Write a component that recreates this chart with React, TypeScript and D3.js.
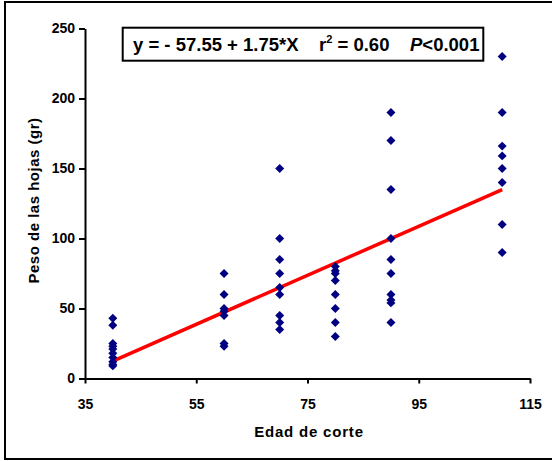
import React, { useRef, useEffect } from "react";
import * as d3 from "d3";

// valores
const edades = [40, 60, 70, 80, 90, 110];
const peso40 = [43, 38, 25, 23, 21, 18, 15, 12, 10, 9];
const peso60 = [75, 60, 50, 48, 45, 25, 23];
const peso70 = [150, 100, 85, 75, 65, 60, 45, 40, 35];
const peso80 = [80, 77, 75, 70, 60, 50, 40, 30];
const peso90 = [190, 170, 135, 100, 85, 75, 60, 56, 54, 40];
const peso110 = [230, 190, 166, 159, 150, 140, 110, 90];
const pesos = [peso40, peso60, peso70, peso80, peso90, peso110];

const xTicks = [35, 55, 75, 95, 115];
const yTicks = [0, 50, 100, 150, 200, 250];

const intercepto = -57.55;
const pendiente = 1.75;

const FONT = "'Liberation Sans', Arial, sans-serif";

const App = () => {
  const ref = useRef<SVGSVGElement | null>(null);

  useEffect(() => {
    const width = 552;
    const height = 461;
    const svg = d3.select(ref.current);
    svg.selectAll("*").remove();

    const x = d3.scaleLinear().domain([35, 115]).range([85, 530]);
    const y = d3.scaleLinear().domain([0, 250]).range([378.5, 28.5]);

    // marco exterior
    svg
      .append("rect")
      .attr("x", 5)
      .attr("y", 2)
      .attr("width", 570)
      .attr("height", 457)
      .attr("fill", "white")
      .attr("stroke", "black")
      .attr("stroke-width", 2);

    // ejes
    const gx = svg
      .append("g")
      .attr("transform", `translate(0,${y(0)})`)
      .call(
        d3.axisBottom(x).tickValues(xTicks).tickSize(5).tickSizeOuter(0).tickPadding(16)
      );
    const gy = svg
      .append("g")
      .attr("transform", `translate(${x(35)},0)`)
      .call(d3.axisLeft(y).tickValues(yTicks).tickSize(6).tickSizeOuter(0).tickPadding(4));

    [gx, gy].forEach((g) => {
      g.select(".domain").attr("stroke", "black").attr("stroke-width", 2);
      g.selectAll(".tick line").attr("stroke", "black").attr("stroke-width", 2);
      g.selectAll(".tick text")
        .attr("fill", "black")
        .attr("font-family", FONT)
        .attr("font-weight", "bold")
        .attr("font-size", "14px");
    });

    // línea de regresión
    const xr = [edades[0], edades[edades.length - 1]];
    svg
      .append("line")
      .attr("x1", x(xr[0]))
      .attr("y1", y(intercepto + pendiente * xr[0]))
      .attr("x2", x(xr[1]))
      .attr("y2", y(intercepto + pendiente * xr[1]))
      .attr("stroke", "#ff0000")
      .attr("stroke-width", 3.5);

    // puntos
    const puntos = edades.flatMap((e, i) => pesos[i].map((p) => ({ e, p })));
    const diamond = d3.symbol(d3.symbolSquare, 40);
    svg
      .append("g")
      .attr("fill", "#000080")
      .selectAll("path")
      .data(puntos)
      .join("path")
      .attr("d", diamond)
      .attr("transform", (d) => `translate(${x(d.e)},${y(d.p)}) rotate(45)`);

    // títulos de ejes
    svg
      .append("text")
      .attr("x", 309)
      .attr("y", 437)
      .attr("text-anchor", "middle")
      .attr("font-family", FONT)
      .attr("font-weight", "bold")
      .attr("font-size", "15px")
      .attr("letter-spacing", "0.8px")
      .text("Edad de corte");

    svg
      .append("text")
      .attr("transform", "translate(39,200.5) rotate(-90)")
      .attr("text-anchor", "middle")
      .attr("font-family", FONT)
      .attr("font-weight", "bold")
      .attr("font-size", "15px")
      .attr("letter-spacing", "0.5px")
      .text("Peso de las hojas (gr)");

    // recuadro de la ecuación
    svg
      .append("rect")
      .attr("x", 122.7)
      .attr("y", 27.7)
      .attr("width", 360.6)
      .attr("height", 33)
      .attr("fill", "white")
      .attr("stroke", "black")
      .attr("stroke-width", 2);

    const eq = svg
      .append("text")
      .attr("y", 50.5)
      .attr("font-family", FONT)
      .attr("font-weight", "bold")
      .attr("font-size", "18.5px");
    eq.append("tspan").attr("x", 133).text(`y = - ${Math.abs(intercepto)} + ${pendiente}*X`);
    eq.append("tspan").attr("x", 319).text("r");
    eq.append("tspan").attr("dy", -8).attr("font-size", "11px").text("2");
    eq.append("tspan").attr("dy", 8).text(" = 0.60");
    eq.append("tspan").attr("x", 410).attr("font-style", "italic").text("P");
    eq.append("tspan").text("<0.001");

    svg.attr("width", width).attr("height", height);
  }, []);

  return (
    <svg
      ref={ref}
      width={552}
      height={461}
      style={{ position: "absolute", left: 0, top: 0, display: "block" }}
    />
  );
};

export default App;
